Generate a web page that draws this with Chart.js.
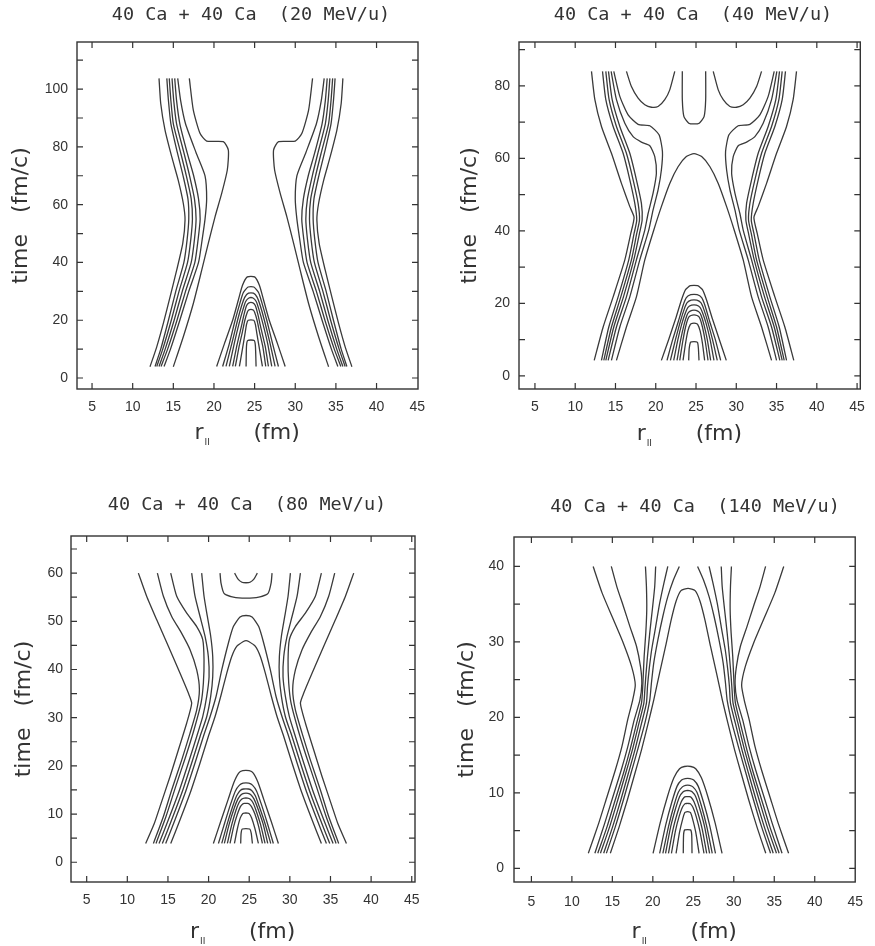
<!DOCTYPE html>
<html>
<head>
<meta charset="utf-8">
<script src="https://cdn.jsdelivr.net/npm/chart.js@4.4.0/dist/chart.umd.min.js"></script>
<style>
  html, body { margin: 0; padding: 0; background: #fff; }
  #wrap { position: relative; width: 875px; height: 946px; }
  canvas { position: absolute; }
</style>
</head>
<body>
<div id="wrap">
  <canvas id="c1" width="437" height="470" style="left:0;top:0"></canvas>
  <canvas id="c2" width="438" height="470" style="left:437px;top:0"></canvas>
  <canvas id="c3" width="437" height="476" style="left:0;top:470px"></canvas>
  <canvas id="c4" width="438" height="476" style="left:437px;top:470px"></canvas>
</div>
<script>
// --- textos e ticks ---
const titles = ['40 Ca + 40 Ca  (20 MeV/u)', '40 Ca + 40 Ca  (40 MeV/u)',
                '40 Ca + 40 Ca  (80 MeV/u)', '40 Ca + 40 Ca  (140 MeV/u)'];
const xTickVals = [5, 10, 15, 20, 25, 30, 35, 40, 45];
const p1YTicks = [0, 10, 20, 30, 40, 50, 60, 70, 80, 90, 100, 110];
const p1YLabels = [0, 20, 40, 60, 80, 100];
const p2YTicks = [0, 10, 20, 30, 40, 50, 60, 70, 80, 90];
const p2YLabels = [0, 20, 40, 60, 80];
const p3YTicks = [0, 5, 10, 15, 20, 25, 30, 35, 40, 45, 50, 55, 60, 65];
const p3YLabels = [0, 10, 20, 30, 40, 50, 60];
const p4YTicks = [0, 5, 10, 15, 20, 25, 30, 35, 40];
const p4YLabels = [0, 10, 20, 30, 40];

// --- painel 1 (20 MeV/u) ---
const p1OuterL = [[13.24,103.7],[13.45,95],[13.98,85.8],[14.8,76.6],[15.6,68.5],[16.23,60.4],[16.44,54.7],[16.16,46.6],[15.42,37.4],[14.6,28.1],[13.77,18.9],[12.96,10.8],[12.13,3.9]];
const p1OuterR = [[35.86,103.7],[35.65,95],[35.12,85.8],[34.3,76.6],[33.5,68.5],[32.87,60.4],[32.66,54.7],[32.94,46.6],[33.68,37.4],[34.5,28.1],[35.33,18.9],[36.14,10.8],[36.97,3.9]];
const p1InnerL = [[16.97,103.7],[17.46,92.7],[18.28,84.7],[19.1,82.0],[21.15,81.8],[21.77,78.9],[21.64,72.0],[20.95,63.9],[20.13,55.8],[19.3,46.6],[18.5,37.4],[17.46,25.8],[16.23,14.3],[15.0,3.9]];
const p1InnerR = [[32.13,103.7],[31.64,92.7],[30.82,84.7],[30.0,82.0],[27.95,81.8],[27.33,78.9],[27.46,72.0],[28.15,63.9],[28.97,55.8],[29.8,46.6],[30.6,37.4],[31.64,25.8],[32.87,14.3],[34.1,3.9]];
const p1BundleY = [4, 10, 20, 30, 40, 48, 55, 62, 70, 78, 88, 96, 103.7];
const p1BundleL = [
  [12.75,13.45,14.4,15.3,16.3,16.7,16.9,16.8,16.2,15.5,14.7,14.4,14.2],
  [12.96,13.7,14.75,15.7,16.75,17.15,17.35,17.2,16.6,15.9,15.0,14.7,14.5],
  [13.24,14.0,15.1,16.1,17.2,17.6,17.8,17.6,17.0,16.3,15.4,15.05,14.84],
  [13.49,14.3,15.45,16.5,17.65,18.05,18.3,18.1,17.5,16.7,15.8,15.4,15.17],
  [13.86,14.65,15.8,16.9,18.1,18.55,18.9,19.1,18.9,17.8,16.5,15.9,15.54]
];
const p1BundleR = [
  [36.35,35.65,34.7,33.8,32.8,32.4,32.2,32.3,32.9,33.6,34.4,34.7,34.9],
  [36.14,35.4,34.35,33.4,32.35,31.95,31.75,31.9,32.5,33.2,34.1,34.4,34.6],
  [35.86,35.1,34.0,33.0,31.9,31.5,31.3,31.5,32.1,32.8,33.7,34.05,34.26],
  [35.61,34.8,33.65,32.6,31.45,31.05,30.8,31.0,31.6,32.4,33.3,33.7,33.93],
  [35.24,34.45,33.3,32.2,31.0,30.55,30.2,30.0,30.2,31.3,32.6,33.2,33.56]
];
const p1Arches = [
  [[20.33,4],[21.3,12],[22.3,20],[23.0,27],[23.5,32],[24.1,35],[25.0,35],[25.6,32],[26.1,27],[26.8,20],[27.8,12],[28.76,4]],
  [[21.07,4],[21.9,12],[22.6,20],[23.2,26],[23.6,29.5],[24.2,31.5],[24.9,31.5],[25.5,29.5],[25.9,26],[26.5,20],[27.2,12],[27.93,4]],
  [[21.48,4],[22.2,12],[22.9,20],[23.4,25],[23.8,28],[24.25,29.4],[24.85,29.4],[25.3,28],[25.7,25],[26.2,20],[26.9,12],[27.52,4]],
  [[21.89,4],[22.5,12],[23.1,19],[23.6,24],[23.9,26.5],[24.3,27.7],[24.8,27.7],[25.2,26.5],[25.5,24],[26.0,19],[26.6,12],[27.11,4]],
  [[22.3,4],[22.8,11],[23.3,17],[23.7,22],[24.0,25],[24.3,26],[24.8,26],[25.1,25],[25.4,22],[25.8,17],[26.3,11],[26.7,4]],
  [[22.63,4],[23.1,11],[23.5,16],[23.8,20],[24.1,22.8],[24.3,23.6],[24.8,23.6],[25.0,22.8],[25.3,20],[25.6,16],[26.0,11],[26.37,4]],
  [[23.13,4],[23.5,10],[23.8,15],[24.0,18.5],[24.2,20],[24.9,20],[25.1,18.5],[25.3,15],[25.6,10],[25.96,4]],
  [[23.95,4],[24.0,11],[24.15,13],[24.95,13],[25.1,11],[25.18,4]]
];

// --- painel 2 (40 MeV/u) ---
const p2OuterY = [84,76.2,68.8,61.4,53.1,46.7,43.7,39.3,32.0,21.8,13.5,4.3];
const p2OuterL = [12.02,12.44,13.26,14.5,15.74,16.78,17.31,16.9,16.16,14.71,13.47,12.36];
const p2OuterR = [37.48,37.06,36.24,35.0,33.76,32.72,32.19,32.6,33.34,34.79,36.03,37.14];
const p2BundleY = [84,76.2,68.8,61.4,54.1,47.6,43.0,39.3,32.0,21.8,13.5,4.3];
const p2BundleL = [
  [13.39,13.8,14.71,15.95,16.78,17.4,17.64,17.31,16.65,15.33,14.17,13.26],
  [13.8,14.21,15.12,16.36,17.19,17.81,17.98,17.64,16.98,15.66,14.5,13.55],
  [14.13,14.59,15.54,16.78,17.6,18.22,18.31,17.98,17.27,15.99,14.79,13.8]
];
const p2BundleR = [
  [36.11,35.7,34.79,33.55,32.72,32.1,31.86,32.19,32.85,34.17,35.33,36.24],
  [35.7,35.29,34.38,33.14,32.31,31.69,31.52,31.86,32.52,33.84,35.0,35.95],
  [35.37,34.91,33.96,32.72,31.9,31.28,31.19,31.52,32.23,33.51,34.71,35.7]
];
const p2ShoulderY2 = [84,76.2,69.7,66.0,64.5,63.5,60.5,55.9,50.4,44.8,40.2,32.0,21.8,13.5,4.3];
const p2ShoulderL2 = [14.46,15.12,16.16,17.19,18.22,19.26,19.88,20.08,19.67,19.05,18.64,17.6,16.36,15.12,14.09];
const p2ShoulderR2 = [35.04,34.38,33.34,32.31,31.28,30.24,29.62,29.42,29.83,30.45,30.86,31.9,33.14,34.38,35.41];
const p2ShoulderY1 = [84,77.1,72.0,69.4,69.0,66.5,61.9,56.8,51.3,45.8,40.2,32.0,21.8,13.5,4.3];
const p2ShoulderL1 = [14.79,15.54,16.57,17.81,19.26,20.41,20.83,20.7,20.29,19.67,19.13,18.02,16.78,15.54,14.5];
const p2ShoulderR1 = [34.71,33.96,32.93,31.69,30.24,29.09,28.67,28.8,29.21,29.83,30.37,31.48,32.72,33.96,35.0];
const p2BigArch = [[15.12,4.3],[16.36,13.5],[17.6,21.8],[18.64,32.0],[19.75,40.2],[20.7,46.7],[21.74,53.1],[22.77,57.7],[23.8,60.5],[24.75,61.3],[25.7,60.5],[26.73,57.7],[27.76,53.1],[28.8,46.7],[29.75,40.2],[30.86,32.0],[31.9,21.8],[33.14,13.5],[34.38,4.3]];
const p2TopU = [
  [[16.36,84],[16.98,79.8],[17.81,76.6],[18.64,74.8],[19.46,74.1],[20.29,74.3],[21.12,76.2],[21.74,78.9],[22.36,84]],
  [[23.3,84],[23.3,76.2],[23.5,71.5],[24.1,69.7],[24.75,69.5],[25.4,69.7],[26.0,71.5],[26.2,76.2],[26.2,84]],
  [[33.14,84],[32.52,79.8],[31.69,76.6],[30.86,74.8],[30.04,74.1],[29.21,74.3],[28.38,76.2],[27.76,78.9],[27.14,84]]
];
const p2Arches = [
  [[20.7,4.3],[21.6,10],[22.5,16],[23.2,21],[23.7,23.8],[24.3,24.9],[25.2,24.9],[25.8,23.8],[26.3,21],[27.0,16],[27.9,10],[28.76,4.3]],
  [[21.4,4.3],[22.1,10],[22.8,15],[23.4,19.5],[23.8,21.6],[24.35,22.4],[25.15,22.4],[25.7,21.6],[26.1,19.5],[26.7,15],[27.4,10],[28.06,4.3]],
  [[21.82,4.3],[22.45,10],[23.05,15],[23.55,18.5],[23.9,20.2],[24.4,20.9],[25.1,20.9],[25.6,20.2],[25.95,18.5],[26.45,15],[27.05,10],[27.64,4.3]],
  [[22.23,4.3],[22.75,10],[23.25,14.5],[23.7,17.5],[24.0,18.9],[24.45,19.5],[25.05,19.5],[25.5,18.9],[25.8,17.5],[26.25,14.5],[26.75,10],[27.23,4.3]],
  [[22.64,4.3],[23.1,10],[23.5,14],[23.85,16.6],[24.1,17.6],[24.5,18.1],[25.0,18.1],[25.4,17.6],[25.65,16.6],[26.0,14],[26.4,10],[26.82,4.3]],
  [[22.98,4.3],[23.35,9.5],[23.7,13.5],[24.0,15.8],[24.25,16.5],[24.55,16.8],[24.95,16.8],[25.25,16.5],[25.5,15.8],[25.8,13.5],[26.15,9.5],[26.49,4.3]],
  [[23.39,4.3],[23.7,9],[24.0,12.5],[24.3,14.2],[24.55,14.5],[24.95,14.5],[25.2,14.2],[25.5,12.5],[25.8,9],[26.07,4.3]],
  [[24.09,4.3],[24.15,7.5],[24.3,9.2],[24.45,9.4],[25.05,9.4],[25.2,9.2],[25.3,7.5],[25.37,4.3]]
];

// --- painel 3 (80 MeV/u) ---
const p3Y1 = [60,55.2,50.3,44.8,39.2,35.1,33.0,28.9,23.3,17.8,11.6,8.1,3.9];
const p3Y2 = [60,55.2,51.0,47.5,44.1,39.9,35.8,31.6,26.8,21.2,15.0,9.5,3.9];
const p3Y3 = [60,55.2,51.7,48.9,46.2,42.0,37.2,33.0,27.5,21.9,15.7,9.5,3.9];
const p3Y4 = [60,55.2,51.0,46.9,42.7,38.5,34.4,30.2,26.1,20.6,14.3,8.8,3.9];
const p3SideL = [
  [11.36,12.38,13.62,15.05,16.49,17.51,17.92,17.31,16.28,15.26,14.03,13.33,12.26],
  [13.7,14.44,15.46,16.69,17.72,18.54,18.87,18.54,17.72,16.69,15.46,14.44,13.21],
  [15.34,16.08,17.31,18.54,19.28,19.44,19.36,19.07,18.21,17.18,15.95,14.76,13.53],
  [17.92,18.33,18.95,19.56,19.97,20.06,19.77,19.28,18.54,17.51,16.28,15.05,13.9],
  [19.15,19.44,19.85,20.26,20.51,20.51,20.26,19.77,18.95,17.92,16.69,15.46,14.31]
];
const p3SideR = [
  [37.86,36.84,35.6,34.17,32.73,31.71,31.3,31.91,32.94,33.96,35.19,35.89,36.96],
  [35.52,34.78,33.76,32.53,31.5,30.68,30.35,30.68,31.5,32.53,33.76,34.78,36.01],
  [33.88,33.14,31.91,30.68,29.94,29.78,29.86,30.15,31.01,32.04,33.27,34.46,35.69],
  [31.3,30.89,30.27,29.66,29.25,29.16,29.45,29.94,30.68,31.71,32.94,34.17,35.32],
  [30.07,29.78,29.37,28.96,28.71,28.71,28.96,29.45,30.27,31.3,32.53,33.76,34.91]
];
const p3BigArches = [
  [[14.72,3.9],[15.87,8.8],[17.1,14.3],[18.33,20.6],[19.36,26.1],[20.18,30.2],[20.92,34.4],[21.62,39.9],[22.44,45.5],[23.05,48.9],[23.87,50.9],[24.61,51.2],[25.35,50.9],[26.17,48.9],[26.78,45.5],[27.6,39.9],[28.3,34.4],[29.04,30.2],[29.86,26.1],[30.89,20.6],[32.12,14.3],[33.35,8.8],[34.5,3.9]],
  [[15.34,3.9],[16.49,8.8],[17.72,14.3],[18.95,20.6],[19.97,26.1],[20.79,30.2],[21.49,34.4],[22.23,39.2],[22.85,42.7],[23.46,44.8],[24.28,45.8],[24.61,46.0],[24.94,45.8],[25.76,44.8],[26.37,42.7],[26.99,39.2],[27.73,34.4],[28.43,30.2],[29.25,26.1],[30.27,20.6],[31.5,14.3],[32.73,8.8],[33.88,3.9]]
];
const p3TopU = [
  [[23.2,60],[23.6,58.8],[24.1,58.1],[24.61,58.0],[25.1,58.1],[25.6,58.8],[26.0,60]],
  [[21.41,60],[21.53,57.9],[21.9,55.8],[23.05,55.0],[24.61,54.8],[26.17,55.0],[27.32,55.8],[27.69,57.9],[27.81,60]]
];
const p3Arches = [
  [[20.59,3.9],[21.5,8.5],[22.4,13],[23.1,16.5],[23.7,18.5],[24.2,19.0],[25.0,19.0],[25.5,18.5],[26.1,16.5],[26.8,13],[27.7,8.5],[28.59,3.9]],
  [[21.21,3.9],[21.95,8],[22.7,12],[23.3,14.8],[23.8,16.0],[24.25,16.4],[24.95,16.4],[25.4,16.0],[25.9,14.8],[26.5,12],[27.25,8],[27.97,3.9]],
  [[21.62,3.9],[22.3,8],[22.95,11.5],[23.45,13.8],[23.9,14.9],[24.3,15.2],[24.9,15.2],[25.3,14.9],[25.75,13.8],[26.25,11.5],[26.95,8],[27.65,3.9]],
  [[21.94,3.9],[22.55,8],[23.15,11.2],[23.6,13.1],[24.0,14.0],[24.35,14.3],[24.85,14.3],[25.2,14.0],[25.6,13.1],[26.05,11.2],[26.7,8],[27.28,3.9]],
  [[22.31,3.9],[22.85,7.8],[23.35,10.7],[23.75,12.4],[24.1,13.1],[24.4,13.3],[24.8,13.3],[25.1,13.1],[25.45,12.4],[25.85,10.7],[26.4,7.8],[26.95,3.9]],
  [[22.64,3.9],[23.1,7.5],[23.55,10],[23.9,11.5],[24.2,12.1],[24.4,12.2],[24.8,12.2],[25.0,12.1],[25.3,11.5],[25.7,10],[26.15,7.5],[26.62,3.9]],
  [[23.18,3.9],[23.55,7],[23.9,9.2],[24.2,10.1],[24.4,10.2],[24.8,10.2],[25.0,10.1],[25.3,9.2],[25.7,7],[26.13,3.9]],
  [[23.95,3.9],[24.0,6.0],[24.15,6.9],[25.05,6.9],[25.25,6.0],[25.39,3.9]]
];

// --- painel 4 (140 MeV/u) ---
const p4SideY = [
  [40,36.5,32.9,29.8,26.7,24.3,22.3,19.7,16.1,13.0,9.5,6.0,2.0],
  [40,37.3,34.7,32.0,29.4,26.7,24.5,22.3,19.7,16.1,13.0,9.5,6.0,2.0],
  [40,37.3,34.3,31.2,28.1,25.4,23.6,21.9,19.2,15.7,12.6,9.1,5.5,2.0],
  [40,37.3,34.3,31.2,28.1,25.4,23.6,21.9,19.2,15.7,12.6,9.1,5.5,2.0],
  [40,37.8,35.1,32.0,29.0,26.3,24.1,21.9,19.2,15.7,12.6,9.1,5.5,2.0],
  [40,38.2,36.0,33.4,30.3,27.2,24.5,22.3,19.2,15.7,12.6,9.1,5.5,2.0]
];
const p4SideL = [
  [12.63,13.73,15.15,16.37,17.39,17.83,17.51,16.9,16.17,15.36,14.34,13.32,12.03],
  [14.87,15.56,16.37,17.18,17.99,18.48,18.64,18.4,17.71,16.9,16.09,15.07,14.06,12.84],
  [19.09,19.21,19.25,19.13,18.93,18.81,18.73,18.6,17.99,17.18,16.37,15.36,14.34,13.2],
  [20.35,20.23,19.94,19.62,19.34,19.13,19.01,18.89,18.28,17.47,16.65,15.68,14.66,13.53],
  [21.85,21.37,20.84,20.35,19.86,19.54,19.34,19.21,18.6,17.79,16.98,16.05,15.03,13.93],
  [23.27,22.54,21.85,21.24,20.63,20.11,19.82,19.62,19.01,18.12,17.3,16.37,15.36,14.26]
];
const p4SideR = [
  [36.17,35.07,33.65,32.43,31.41,30.97,31.29,31.9,32.63,33.44,34.46,35.48,36.77],
  [33.93,33.24,32.43,31.62,30.81,30.32,30.16,30.4,31.09,31.9,32.71,33.73,34.74,35.96],
  [29.71,29.59,29.55,29.67,29.87,29.99,30.07,30.2,30.81,31.62,32.43,33.44,34.46,35.6],
  [28.45,28.57,28.86,29.18,29.46,29.67,29.79,29.91,30.52,31.33,32.15,33.12,34.14,35.27],
  [26.95,27.43,27.96,28.45,28.94,29.26,29.46,29.59,30.2,31.01,31.82,32.75,33.77,34.87],
  [25.53,26.26,26.95,27.56,28.17,28.69,28.98,29.18,29.79,30.68,31.5,32.43,33.44,34.54]
];
const p4BigArch = [[14.75,2.0],[15.84,5.5],[16.86,9.1],[17.79,12.6],[18.6,15.7],[19.42,19.2],[20.11,22.3],[20.84,25.9],[21.57,29.4],[22.26,32.9],[22.87,35.4],[23.48,36.8],[24.35,37.1],[25.22,36.8],[25.83,35.4],[26.44,32.9],[27.13,29.4],[27.86,25.9],[28.59,22.3],[29.28,19.2],[30.1,15.7],[30.91,12.6],[31.84,9.1],[32.86,5.5],[33.95,2.0]];
const p4Arches = [
  [[20.03,2],[20.9,6],[21.8,9.5],[22.6,12],[23.3,13.2],[23.9,13.5],[24.7,13.5],[25.3,13.2],[26.0,12],[26.8,9.5],[27.7,6],[28.55,2]],
  [[20.84,2],[21.6,5.8],[22.35,8.8],[23.0,10.9],[23.55,11.7],[24.0,11.9],[24.6,11.9],[25.05,11.7],[25.6,10.9],[26.25,8.8],[27.0,5.8],[27.74,2]],
  [[21.24,2],[21.95,5.6],[22.6,8.3],[23.15,10.1],[23.65,10.8],[24.05,11.0],[24.55,11.0],[24.95,10.8],[25.45,10.1],[26.0,8.3],[26.65,5.6],[27.34,2]],
  [[21.57,2],[22.2,5.5],[22.8,7.9],[23.3,9.5],[23.75,10.15],[24.1,10.3],[24.5,10.3],[24.85,10.15],[25.3,9.5],[25.8,7.9],[26.4,5.5],[27.01,2]],
  [[21.93,2],[22.5,5.2],[23.05,7.4],[23.5,8.8],[23.85,9.4],[24.1,9.5],[24.5,9.5],[24.75,9.4],[25.1,8.8],[25.55,7.4],[26.1,5.2],[26.65,2]],
  [[22.3,2],[22.8,5],[23.25,6.9],[23.65,8.1],[23.95,8.55],[24.15,8.6],[24.45,8.6],[24.65,8.55],[24.95,8.1],[25.35,6.9],[25.8,5],[26.32,2]],
  [[22.87,2],[23.3,4.8],[23.7,6.6],[23.95,7.4],[24.15,7.5],[24.45,7.5],[24.65,7.4],[24.9,6.6],[25.3,4.8],[25.71,2]],
  [[23.76,2],[23.8,4.5],[23.95,5.1],[24.65,5.1],[24.8,4.5],[24.84,2]]
];

// helpers para montar os pontos
const pares = arr => arr.map(([x, y]) => ({ x, y }));
const niveis = (xs, ys) => xs.map((x, i) => ({ x, y: ys[i] }));

const linhasP1 = [
  pares(p1OuterL), pares(p1OuterR), pares(p1InnerL), pares(p1InnerR),
  ...p1BundleL.map(xs => niveis(xs, p1BundleY)),
  ...p1BundleR.map(xs => niveis(xs, p1BundleY)),
  ...p1Arches.map(pares)
];
const linhasP2 = [
  niveis(p2OuterL, p2OuterY), niveis(p2OuterR, p2OuterY),
  ...p2BundleL.map(xs => niveis(xs, p2BundleY)),
  ...p2BundleR.map(xs => niveis(xs, p2BundleY)),
  niveis(p2ShoulderL2, p2ShoulderY2), niveis(p2ShoulderR2, p2ShoulderY2),
  niveis(p2ShoulderL1, p2ShoulderY1), niveis(p2ShoulderR1, p2ShoulderY1),
  pares(p2BigArch), ...p2TopU.map(pares), ...p2Arches.map(pares)
];
const p3Ys = [p3Y1, p3Y2, p3Y3, p3Y4, p3Y4];
const linhasP3 = [
  ...p3SideL.map((xs, i) => niveis(xs, p3Ys[i])),
  ...p3SideR.map((xs, i) => niveis(xs, p3Ys[i])),
  ...p3BigArches.map(pares), ...p3TopU.map(pares), ...p3Arches.map(pares)
];
const linhasP4 = [
  ...p4SideL.map((xs, i) => niveis(xs, p4SideY[i])),
  ...p4SideR.map((xs, i) => niveis(xs, p4SideY[i])),
  pares(p4BigArch), ...p4Arches.map(pares)
];

// layout de cada painel (pixels relativos ao canvas)
const paineis = [
  { id: 'c1', linhas: linhasP1, xMin: 3.15, xMax: 45.1, yMin: -3.8, yMax: 116.3, yTicks: p1YTicks, yLabels: p1YLabels,
    left: 77, top: 42, right: 19, bottom: 81, xPad: 10, yPad: 9,
    title: titles[0], titleX: 251, titleY: 15, yTitleX: 27, xTitleY: 439 },
  { id: 'c2', linhas: linhasP2, xMin: 3.02, xMax: 45.4, yMin: -3.6, yMax: 92.1, yTicks: p2YTicks, yLabels: p2YLabels,
    left: 82, top: 42, right: 14, bottom: 81, xPad: 10, yPad: 9,
    title: titles[1], titleX: 256, titleY: 15, yTitleX: 39, xTitleY: 440 },
  { id: 'c3', linhas: linhasP3, xMin: 3.07, xMax: 45.4, yMin: -4.1, yMax: 67.7, yTicks: p3YTicks, yLabels: p3YLabels,
    left: 71, top: 66, right: 22, bottom: 64, xPad: 10, yPad: 8,
    title: titles[2], titleX: 247, titleY: 35, yTitleX: 30, xTitleY: 468 },
  { id: 'c4', linhas: linhasP4, xMin: 2.85, xMax: 45.0, yMin: -1.8, yMax: 43.9, yTicks: p4YTicks, yLabels: p4YLabels,
    left: 77, top: 67, right: 16, bottom: 64, xPad: 12, yPad: 10,
    title: titles[3], titleX: 258, titleY: 37, yTitleX: 36, xTitleY: 468 }
];
const painelPorId = {};
paineis.forEach(p => { painelPorId[p.id] = p; });

const COR = '#333';

const molduraPlugin = {
  id: 'moldura',
  afterDraw(chart) {
    const p = painelPorId[chart.canvas.id];
    if (!p) return;
    const { ctx, chartArea: a, scales: { x, y } } = chart;
    ctx.save();
    ctx.strokeStyle = COR;
    ctx.lineWidth = 1.4;
    ctx.strokeRect(a.left, a.top, a.width, a.height);

    // tracinhos para dentro nos quatro lados
    ctx.lineWidth = 1.2;
    ctx.beginPath();
    x.ticks.forEach(t => {
      const px = x.getPixelForValue(t.value);
      if (px < a.left + 3 || px > a.right - 3) return;
      ctx.moveTo(px, a.bottom); ctx.lineTo(px, a.bottom - 6);
      ctx.moveTo(px, a.top); ctx.lineTo(px, a.top + 6);
    });
    y.ticks.forEach(t => {
      const py = y.getPixelForValue(t.value);
      if (py < a.top + 3 || py > a.bottom - 3) return;
      ctx.moveTo(a.left, py); ctx.lineTo(a.left + 6, py);
      ctx.moveTo(a.right, py); ctx.lineTo(a.right - 6, py);
    });
    ctx.stroke();

    ctx.fillStyle = COR;
    // titulo
    ctx.font = '18.5px "DejaVu Sans Mono"';
    ctx.textAlign = 'center';
    ctx.textBaseline = 'middle';
    ctx.fillText(p.title, p.titleX, p.titleY);

    // titulo do eixo y
    ctx.save();
    ctx.translate(p.yTitleX, (a.top + a.bottom) / 2);
    ctx.rotate(-Math.PI / 2);
    ctx.font = '22px "DejaVu Sans"';
    ctx.textBaseline = 'alphabetic';
    ctx.fillText('time   (fm/c)', 0, 0);
    ctx.restore();

    // titulo do eixo x: r com subscrito || e (fm)
    const cx = (a.left + a.right) / 2;
    ctx.textAlign = 'left';
    ctx.textBaseline = 'alphabetic';
    ctx.font = '22px "DejaVu Sans"';
    ctx.fillText('r', cx - 53, p.xTitleY);
    const rw = ctx.measureText('r').width;
    ctx.font = '9px "DejaVu Sans"';
    ctx.fillText('II', cx - 53 + rw + 1, p.xTitleY + 6);
    ctx.font = '22px "DejaVu Sans"';
    ctx.fillText('(fm)', cx + 6, p.xTitleY);
    ctx.restore();
  }
};

Chart.defaults.font.family = '"Liberation Sans", Arial, sans-serif';
Chart.defaults.font.size = 14;
Chart.defaults.color = COR;

function criarPainel(p) {
  const ctx = document.getElementById(p.id).getContext('2d');
  return new Chart(ctx, {
    type: 'scatter',
    data: {
      datasets: p.linhas.map(d => ({
        data: d,
        showLine: true,
        borderColor: '#3a3a3a',
        borderWidth: 1.3,
        pointRadius: 0,
        tension: 0.2,
        fill: false
      }))
    },
    options: {
      responsive: false,
      animation: false,
      events: [],
      layout: { padding: { left: 0, top: p.top, right: p.right, bottom: 0 } },
      scales: {
        x: {
          type: 'linear', min: p.xMin, max: p.xMax,
          grid: { display: false, drawTicks: false },
          border: { display: false },
          afterBuildTicks: s => { s.ticks = xTickVals.map(v => ({ value: v })); },
          afterFit: s => { s.height = p.bottom; },
          ticks: { autoSkip: false, maxRotation: 0, minRotation: 0, padding: p.xPad }
        },
        y: {
          type: 'linear', min: p.yMin, max: p.yMax,
          grid: { display: false, drawTicks: false },
          border: { display: false },
          afterBuildTicks: s => { s.ticks = p.yTicks.map(v => ({ value: v })); },
          afterFit: s => { s.width = p.left; },
          ticks: {
            autoSkip: false, padding: p.yPad,
            callback: v => p.yLabels.includes(v) ? String(v) : ''
          }
        }
      },
      plugins: { legend: { display: false }, tooltip: { enabled: false } }
    },
    plugins: [molduraPlugin]
  });
}

paineis.forEach(criarPainel);
</script>
</body>
</html>
